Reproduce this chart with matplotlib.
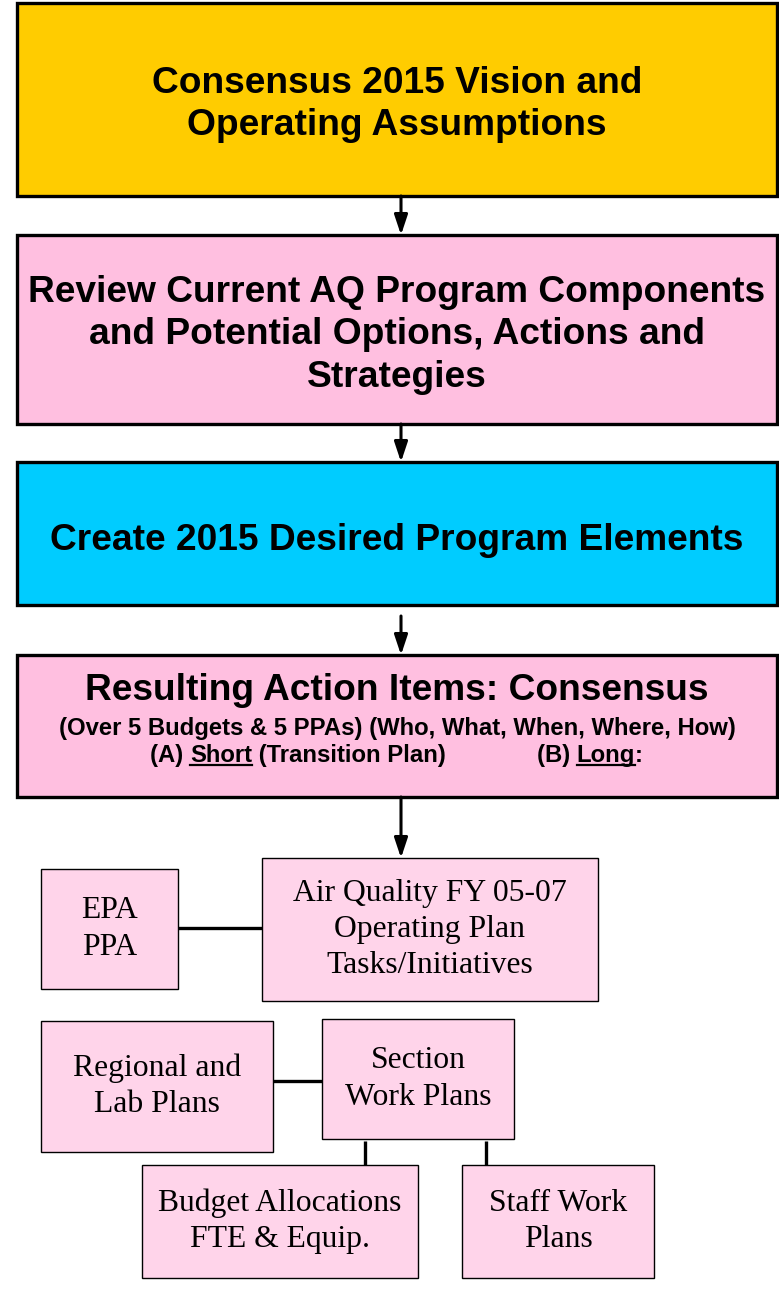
import matplotlib
matplotlib.use("Agg")
import matplotlib.pyplot as plt
from matplotlib.patches import Rectangle

W, H = 779, 1307

# ── content ───────────────────────────────────────────────────────────────────
MAIN_LABELS = [
    ["Consensus 2015 Vision and", "Operating Assumptions"],
    ["Review Current AQ Program Components",
     "and Potential Options, Actions and", "Strategies"],
    ["Create 2015 Desired Program Elements"],
]
MAIN_COLORS = ["#FFCC00", "#FFBFE0", "#00CCFF"]
ACTION_TITLE = "Resulting Action Items: Consensus"
ACTION_SUB = "(Over 5 Budgets & 5 PPAs) (Who, What, When, Where, How)"
ACTION_A = [("(A) ", False), ("Short", True), (" (Transition Plan)", False)]
ACTION_B = [("(B) ", False), ("Long", True), (":", False)]
PLAN_LABELS = {
    "epa": "EPA\nPPA",
    "aq": "Air Quality FY 05-07\nOperating Plan\nTasks/Initiatives",
    "reg": "Regional and\nLab Plans",
    "sec": "Section\nWork Plans",
    "bud": "Budget Allocations\nFTE & Equip.",
    "staff": "Staff Work\nPlans",
}
PLAN_COLOR = "#FFD4EA"

# ── layout (pixel coords, y down) ────────────────────────────────────────────
MAIN_BOXES = [(17, 3, 760, 193), (17, 235, 760, 189), (17, 462, 760, 143)]
MAIN_BASELINES = [[93, 135], [302, 344, 387], [550]]
ACTION_BOX = (17, 655, 760, 142)
PLAN_BOXES = {
    "epa": (41, 869, 137, 120),
    "aq": (262, 858, 336, 143),
    "reg": (41, 1021, 232, 131),
    "sec": (322, 1019, 192, 120),
    "bud": (142, 1165, 276, 113),
    "staff": (462, 1165, 192, 113),
}

fig = plt.figure(figsize=(W / 100, H / 100), dpi=100)
ax = fig.add_axes([0, 0, 1, 1])
ax.set_xlim(0, W)
ax.set_ylim(H, 0)
ax.axis("off")

SANS = ["Liberation Sans", "Arial", "DejaVu Sans"]
SERIF = ["Liberation Serif", "Times New Roman", "DejaVu Serif"]


def box(x, y, w, h, fc, lw):
    ax.add_patch(Rectangle((x, y), w, h, facecolor=fc, edgecolor="black",
                           linewidth=lw, zorder=2))


def arrow(x, y0, y1):
    ax.annotate("", xy=(x, y1), xytext=(x, y0),
                arrowprops=dict(arrowstyle="-|>,head_length=1.2,head_width=0.4",
                                lw=2.2, color="black", shrinkA=0, shrinkB=0),
                zorder=3)


def line(xs, ys):
    ax.plot(xs, ys, color="black", lw=2.4, solid_capstyle="butt", zorder=1)


renderer = fig.canvas.get_renderer()
inv = ax.transData.inverted()


def text_parts(x_left, y, parts, size):
    x = x_left
    for s, ul in parts:
        t = ax.text(x, y, s, ha="left", va="baseline", fontsize=size,
                    fontweight="bold", family=SANS, zorder=4)
        bb = t.get_window_extent(renderer)
        (xa, _), (xb, _) = inv.transform([(bb.x0, bb.y0), (bb.x1, bb.y0)])
        if ul:
            ax.plot([xa, xb], [y + 3, y + 3], color="black", lw=1.6, zorder=4)
        x = xb


# main boxes
for (x, y, w, h), fc, lines, bls in zip(MAIN_BOXES, MAIN_COLORS,
                                        MAIN_LABELS, MAIN_BASELINES):
    box(x, y, w, h, fc, 2.4)
    for s, b in zip(lines, bls):
        ax.text(x + w / 2, b, s, ha="center", va="baseline",
                fontsize=26.7, fontweight="bold", family=SANS, zorder=4)

# action box
x, y, w, h = ACTION_BOX
box(x, y, w, h, MAIN_COLORS[1], 2.4)
ax.text(397, 700, ACTION_TITLE, ha="center", va="baseline",
        fontsize=26.7, fontweight="bold", family=SANS, zorder=4)
ax.text(397, 735, ACTION_SUB, ha="center", va="baseline",
        fontsize=17.2, fontweight="bold", family=SANS, zorder=4)
text_parts(150, 762, ACTION_A, 17.2)
text_parts(537, 762, ACTION_B, 17.2)

# arrows between main boxes
arrow(401, 196, 235)
arrow(401, 424, 462)
arrow(401, 616, 655)
arrow(401, 797, 858)

# plan boxes
for key, (x, y, w, h) in PLAN_BOXES.items():
    box(x, y, w, h, PLAN_COLOR, 1.0)
    ax.text(x + w / 2, y + h / 2, PLAN_LABELS[key], ha="center", va="center",
            fontsize=22.8, family=SERIF, linespacing=1.32, zorder=4)

# connectors
line([178, 262], [928, 928])
line([273, 322], [1081, 1081])
line([365, 365], [1141, 1165])
line([486, 486], [1141, 1165])

fig.savefig("out.png", dpi=100, facecolor="white")
